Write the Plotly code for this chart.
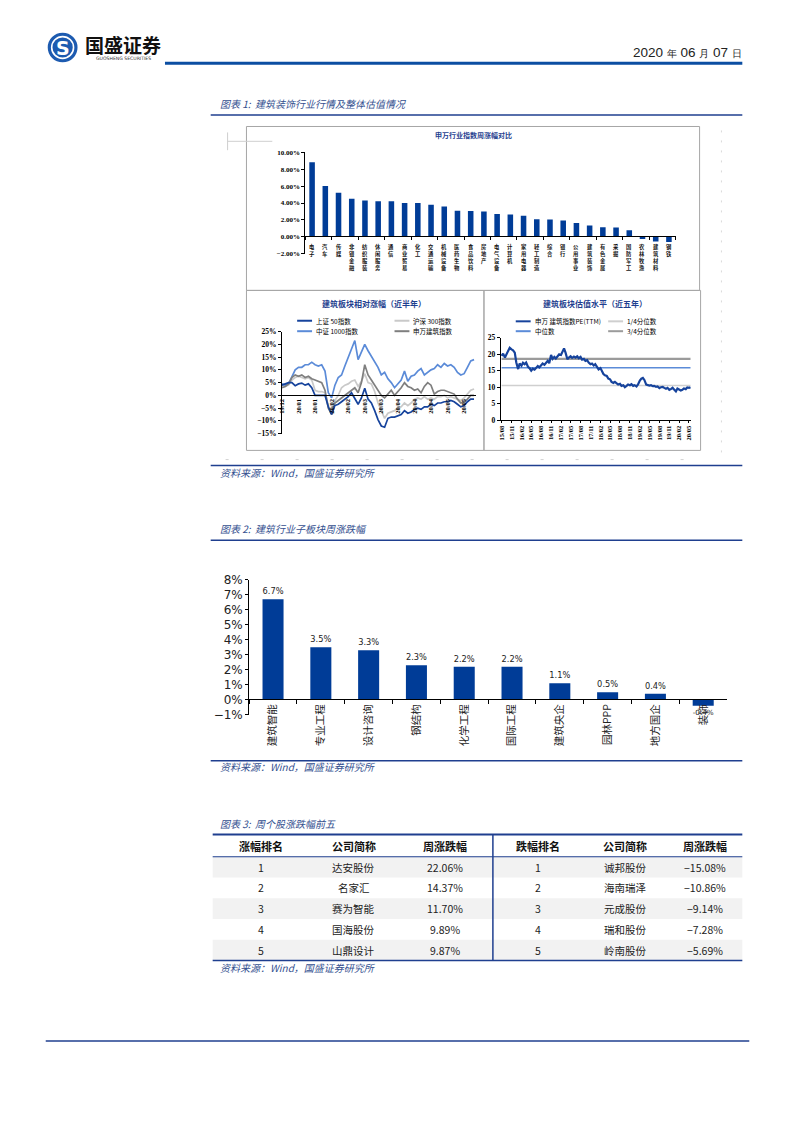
import plotly.graph_objects as go
import pandas as pd

W, H = 793, 1122
def X(px): return px / W
def Y(py): return 1 - py / H

CJK = "Noto Sans CJK SC"
SERIF = "Liberation Serif"
NAVY = "#1F3F8F"
CAP = "#34508F"
BAR = "#003C97"

# ---------------- data ----------------
ind_names = ["电子","汽车","传媒","非银金融","纺织服装","休闲服务","通信","商业贸易","化工","交通运输",
             "机械设备","医药生物","食品饮料","房地产","电气设备","计算机","家用电器","轻工制造","综合","银行",
             "公用事业","建筑装饰","有色金属","采掘","国防军工","农林牧渔","建筑材料","钢铁"]
ind_chg = [8.8,6.0,5.2,4.5,4.3,4.2,4.2,4.0,4.0,3.8,3.6,3.1,3.05,3.0,2.7,2.65,2.5,2.1,2.05,1.95,
           1.65,1.35,1.15,1.1,0.8,-0.25,-0.55,-0.6]

rel_days = list(range(0, 117, 2))
rel_ticks = [0,10,20,30,40,50,60,70,80,90,100,110]
rel_ticktext = ["19/12","20/01","20/01","20/02","20/02","20/03","20/03","20/04","20/04","20/04","20/05","20/05"]
sz50 = [4.0,4.5,5.0,5.0,3.8,4.5,4.8,4.0,4.5,3.0,0.0,0.0,0.0,0.0,-4.5,-7.5,-4.0,-3.5,-2.5,-1.5,
        -0.5,1.0,-1.0,-3.5,-1.0,2.8,-1.5,-3.0,-6.0,-9.5,-12.0,-12.5,-9.0,-8.5,-8.5,-8.0,-7.5,-6.0,-7.0,-6.5,
        -5.5,-5.0,-5.5,-4.5,-4.5,-3.5,-4.0,-3.0,-3.0,-2.5,-2.5,-2.0,-2.5,-3.5,-4.5,-4.0,-2.5,-1.5,-1.5]
hs300 = [3.5,3.5,4.0,6.0,7.0,7.5,7.0,6.5,7.0,6.0,2.0,1.5,1.5,1.0,-4.0,-7.0,-2.0,0.0,3.0,4.0,
         4.5,5.5,6.0,3.5,5.5,8.5,5.0,4.5,1.5,-3.0,-6.0,-9.0,-7.0,-6.5,-6.0,-5.0,-4.5,-3.0,-4.0,-3.0,
         -1.5,-1.0,-1.5,-0.5,-1.5,-1.0,-1.5,-0.5,-0.5,0.0,-1.0,-0.5,-1.0,-1.5,-2.0,-1.0,0.5,2.0,2.5]
zz1000 = [4.5,4.0,4.5,7.5,10.0,11.0,11.0,12.0,12.0,13.0,12.0,11.5,12.0,9.5,1.0,-1.0,4.0,7.0,8.0,11.5,
          15.0,18.0,21.5,14.0,17.0,20.0,17.5,15.5,13.0,11.0,8.0,9.0,6.5,5.0,3.0,4.5,6.0,9.5,5.5,7.5,
          8.0,9.5,10.5,8.0,9.0,10.0,10.5,12.0,11.0,12.5,11.5,12.0,11.0,9.0,8.0,8.5,11.0,13.5,14.0]
swjz = [3.0,3.5,4.5,7.0,8.0,7.5,8.0,7.0,7.5,6.5,6.0,5.5,5.0,2.0,-5.0,-7.5,-3.0,-2.0,-1.0,0.0,
        1.0,2.0,3.0,1.0,5.0,12.0,8.0,6.0,4.0,2.0,0.0,-1.0,0.5,2.0,0.0,1.5,3.0,5.0,3.5,3.0,
        2.0,2.5,1.0,3.5,5.0,4.0,0.5,1.5,2.0,2.0,1.5,1.0,0.5,-1.5,-3.0,-2.5,-1.5,0.0,0.0]

pe_dates = pd.date_range("2015-08-01", periods=116, freq="SMS")
pe_ttm = [19.5,20.2,19.0,20.0,21.0,22.0,21.5,21.2,20.5,17.5,
          15.5,17.2,16.5,17.4,17.0,17.5,16.2,15.8,15.0,15.6,
          15.3,16.0,16.4,16.0,16.8,17.2,16.8,17.4,18.0,17.3,
          19.8,18.6,19.2,18.7,19.5,20.0,19.8,20.6,21.8,20.5,
          18.5,19.0,19.4,18.9,19.3,19.0,19.4,18.8,19.2,18.4,
          18.6,18.0,18.2,17.5,17.0,17.2,16.6,17.0,16.3,15.4,
          15.8,14.6,14.0,13.6,13.4,12.6,12.4,11.6,11.3,11.6,
          11.2,10.8,11.0,10.4,10.6,10.0,10.4,10.8,10.6,10.9,
          10.4,10.6,10.2,10.8,12.0,12.6,12.8,12.2,10.8,10.6,
          10.5,10.6,10.3,10.4,10.1,10.2,9.7,10.0,10.1,9.8,
          9.5,9.8,9.2,9.4,9.8,9.3,8.7,9.6,9.4,9.0,
          9.2,9.6,9.4,9.9,9.8,10.0]
pe_q1, pe_med, pe_q3 = 10.5, 15.9, 18.6
pe_ticks = pd.date_range("2015-08-01", "2020-05-01", freq="3MS")

sub_names = ["建筑智能","专业工程","设计咨询","钢结构","化学工程","国际工程","建筑央企","园林PPP","地方国企","装饰"]
sub_chg = [6.7,3.5,3.3,2.3,2.2,2.2,1.1,0.5,0.4,-0.4]

tbl_header = ["涨幅排名","公司简称","周涨跌幅","跌幅排名","公司简称","周涨跌幅"]
up_rank = ["1","2","3","4","5"]
up_name = ["达安股份","名家汇","赛为智能","国海股份","山鼎设计"]
up_chg = ["22.06%","14.37%","11.70%","9.89%","9.87%"]
dn_rank = ["1","2","3","4","5"]
dn_name = ["诚邦股份","海南瑞泽","元成股份","瑞和股份","岭南股份"]
dn_chg = ["\u221215.08%","\u221210.86%","\u22129.14%","\u22127.28%","\u22125.69%"]

# ---------------- figure ----------------
fig = go.Figure()

fig.add_trace(go.Bar(x=ind_names, y=ind_chg, marker_color=BAR, marker_line_width=0,
                     width=0.42, xaxis="x", yaxis="y"))

for vals, color in [(hs300, "#C9C9C9"), (zz1000, "#5B8BD8"), (swjz, "#7F7F7F"), (sz50, "#16439C")]:
    fig.add_trace(go.Scatter(x=rel_days, y=vals, mode="lines", line=dict(color=color, width=1.7),
                             xaxis="x2", yaxis="y2"))

for q, color, w in [(pe_q3, "#9B9B9B", 2.2), (pe_med, "#5B8BD8", 1.6), (pe_q1, "#CFCFCF", 1.6)]:
    fig.add_trace(go.Scatter(x=pe_dates, y=[q] * len(pe_dates), mode="lines",
                             line=dict(color=color, width=w), xaxis="x3", yaxis="y3"))
fig.add_trace(go.Scatter(x=pe_dates, y=pe_ttm, mode="lines", line=dict(color="#16439C", width=2.2),
                         xaxis="x3", yaxis="y3"))

fig.add_trace(go.Bar(x=sub_names, y=sub_chg, marker_color=BAR, marker_line_width=0, width=0.44,
                     text=[f"{v:.1f}%" for v in sub_chg], textposition="outside", cliponaxis=False,
                     textfont=dict(family="DejaVu Sans", size=12, color="#222"),
                     xaxis="x4", yaxis="y4"))

axis_common = dict(showgrid=False, zeroline=False, showline=True, linecolor="black", linewidth=1)
tick_serif = dict(family=SERIF, size=7, color="black", weight="bold")

fig.update_layout(
    width=W, height=H, margin=dict(l=0, r=0, t=0, b=0),
    paper_bgcolor="white", plot_bgcolor="rgba(0,0,0,0)", showlegend=False,
    font=dict(family=CJK),
    xaxis=dict(axis_common, domain=[X(303.4), X(675.8)], anchor="free", position=Y(232.3),
               type="category", range=[-0.5, 27.5], ticks="outside", tickson="boundaries",
               ticklen=3, tickcolor="black", showticklabels=False),
    yaxis=dict(axis_common, domain=[Y(250), Y(147)], anchor="x", range=[-2, 10], dtick=2,
               tickformat=".2f", ticksuffix="%", ticks="outside", ticklen=3, tickcolor="black",
               tickfont=tick_serif),
    xaxis2=dict(axis_common, domain=[X(279.7), X(474.7)], anchor="free", position=Y(393.3),
                range=[0, 117], tickvals=rel_ticks, ticktext=rel_ticktext, tickangle=-90,
                ticks="", tickfont=dict(family=SERIF, size=6.5, color="black", weight="bold")),
    yaxis2=dict(axis_common, domain=[Y(432), Y(328.7)], anchor="x2", range=[-15, 25], dtick=5,
                ticksuffix="%", ticks="outside", ticklen=3, tickcolor="black",
                tickfont=dict(family=SERIF, size=7.5, color="black", weight="bold")),
    xaxis3=dict(axis_common, domain=[X(500), X(691.4)], anchor="y3", type="date",
                range=["2015-07-25", "2020-05-20"], tickvals=list(pe_ticks), tickformat="%y/%m",
                tickangle=-90, ticks="outside", ticklen=2, tickcolor="black",
                tickfont=dict(family=SERIF, size=6.5, color="black", weight="bold")),
    yaxis3=dict(axis_common, domain=[Y(418.3), Y(335)], anchor="x3", range=[0, 25], dtick=5,
                ticks="outside", ticklen=3, tickcolor="black",
                tickfont=dict(family=SERIF, size=7.5, color="black", weight="bold")),
    xaxis4=dict(axis_common, domain=[X(246.7), X(727.7)], anchor="free", position=Y(700.7),
                type="category", range=[-0.5, 9.5], ticks="outside", tickson="boundaries",
                ticklen=4, tickcolor="black", tickangle=-90,
                tickfont=dict(family=CJK, size=10.5, color="#222")),
    yaxis4=dict(axis_common, domain=[Y(716.7), Y(580)], anchor="x4", range=[-1, 8], dtick=1,
                ticksuffix="%", ticks="outside", ticklen=3, tickcolor="black",
                tickfont=dict(family="DejaVu Sans", size=12, color="#222")),
)

shapes = []
def line(x0, y0, x1, y1, color, width, dash=None):
    d = dict(type="line", xref="paper", yref="paper", x0=X(x0), y0=Y(y0), x1=X(x1), y1=Y(y1),
             line=dict(color=color, width=width))
    if dash:
        d["line"]["dash"] = dash
    shapes.append(d)

def rect(x0, y0, x1, y1, color, width, fill="rgba(0,0,0,0)", layer="above"):
    shapes.append(dict(type="rect", xref="paper", yref="paper", x0=X(x0), y0=Y(y0), x1=X(x1), y1=Y(y1),
                       line=dict(color=color, width=width), fillcolor=fill, layer=layer))

# header
line(162, 57, 743, 57, "#0B4EA2", 3)
shapes.append(dict(type="circle", xref="paper", yref="paper", x0=X(44), y0=Y(56), x1=X(74), y1=Y(26),
                   fillcolor="#1D5BB0", line=dict(width=0)))
shapes.append(dict(type="circle", xref="paper", yref="paper", x0=X(48), y0=Y(52), x1=X(70), y1=Y(30),
                   fillcolor="rgba(0,0,0,0)", line=dict(color="white", width=1.6)))
# caption lines
line(208, 109.3, 743, 109.3, NAVY, 1.5)
line(208, 464.3, 743, 464.3, NAVY, 1.5)
line(208, 540, 743, 540, NAVY, 1.5)
line(208, 763.3, 743, 763.3, NAVY, 1.5)
# chart 1 frames
rect(244, 121, 700, 287, "#A6A6A6", 1)
rect(244, 287, 483, 449, "#A6A6A6", 1)
rect(483, 287, 701, 449, "#A6A6A6", 1)
line(225, 136, 270, 136, "#CFCFCF", 1)
line(225, 127, 225, 145, "#CFCFCF", 1)
line(223, 458.3, 705, 458.3, "#D2D2D2", 1, "3px,32px")
line(722, 125, 722, 452, "#DADADA", 1, "2px,8px")
# legends (chart 1b)
line(295, 317.7, 310, 317.7, "#16439C", 2)
line(393, 317.7, 408, 317.7, "#C9C9C9", 2)
line(295, 328.3, 310, 328.3, "#5B8BD8", 2)
line(393, 328.3, 408, 328.3, "#7F7F7F", 2)
# legends (chart 1c)
line(515, 318.3, 530, 318.3, "#16439C", 2)
line(608, 318.3, 623, 318.3, "#CFCFCF", 2)
line(515, 328.3, 530, 328.3, "#5B8BD8", 2)
line(608, 328.3, 623, 328.3, "#9B9B9B", 2)
# table backgrounds and lines
tbl_top, tbl_head, row_h = 838, 860.5, 21
row_fill = ["#F2F2F2", "white", "#F2F2F2", "white", "#F2F2F2"]
for i, c in enumerate(row_fill):
    if c != "white":
        rect(210, tbl_head + i * row_h, 743, tbl_head + (i + 1) * row_h, "rgba(0,0,0,0)", 0,
             fill=c, layer="below")
tbl_bot = tbl_head + len(up_rank) * row_h
line(210, tbl_top, 743, tbl_top, NAVY, 2)
line(210, tbl_head, 743, tbl_head, NAVY, 1)
line(210, tbl_bot, 743, tbl_bot, NAVY, 1.5)
line(492, tbl_top, 492, tbl_bot, NAVY, 1.5)
# footer
line(42, 1047, 750, 1047, NAVY, 1.5)
fig.update_layout(shapes=shapes)

anns = []
def ann(text, x, y, size, color="black", xa="left", ya="middle", family=CJK, weight=None):
    f = dict(family=family, size=size, color=color)
    if weight:
        f["weight"] = weight
    anns.append(dict(text=text, x=X(x), y=Y(y), xref="paper", yref="paper", showarrow=False,
                     xanchor=xa, yanchor=ya, font=f))

ann("S", 59, 41.5, 19, "white", "center", family="DejaVu Sans", weight="bold")
ann("国盛证券", 80, 38, 19, "#111", weight="bold")
ann("GUOSHENG SECURITIES", 120, 52.5, 4.6, "#333", "center", family="DejaVu Sans")
ann("2020 <span style='font-size:10px'>年</span> 06 <span style='font-size:10px'>月</span> 07 "
    "<span style='font-size:10px'>日</span>", 745, 46, 13.5, "#222", "right",
    family="Liberation Sans Narrow, Liberation Sans")

ann("<i>图表 1:  建筑装饰行业行情及整体估值情况</i>", 215, 97.5, 10, CAP)
ann("<i>资料来源：Wind，国盛证券研究所</i>", 215, 471.7, 10, CAP)
ann("<i>图表 2:  建筑行业子板块周涨跌幅</i>", 215, 527.7, 10, CAP)
ann("<i>资料来源：Wind，国盛证券研究所</i>", 215, 769.5, 10, CAP)
ann("<i>图表 3:  周个股涨跌幅前五</i>", 215, 826.5, 10, CAP)
ann("<i>资料来源：Wind，国盛证券研究所</i>", 215, tbl_bot + 7, 10, CAP)

ann("申万行业指数周涨幅对比", 472, 130, 7, NAVY, "center", weight="bold")
ann("建筑板块相对涨幅（近半年）", 372, 300, 8, NAVY, "center", weight="bold")
ann("建筑板块估值水平（近五年）", 595, 300.7, 8, NAVY, "center", weight="bold")

ann("上证 50指数", 311.5, 317.7, 6.5)
ann("沪深 300指数", 410, 317.7, 6.5)
ann("中证 1000指数", 311.5, 328.3, 6.5)
ann("申万建筑指数", 410, 328.3, 6.5)
ann("申万 建筑指数PE(TTM)", 532, 318.3, 6.5)
ann("1/4分位数", 625, 318.3, 6.5)
ann("中位数", 532, 328.3, 6.5)
ann("3/4分位数", 625, 328.3, 6.5)

# industry category labels, characters stacked vertically under each bar
for name in ind_names:
    anns.append(dict(text="<br>".join(name), x=name, xref="x", y=Y(238), yref="paper",
                     showarrow=False, xanchor="center", yanchor="top", borderpad=0,
                     font=dict(family=CJK, size=5.3, color="#111", weight="bold")))

# table text
col_x = [259, 352, 444, 537, 625, 705.5]
for cx, h in zip(col_x, tbl_header):
    ann(f"<b>{h}</b>", cx, (tbl_top + tbl_head) / 2 + 0.5, 11, "#111", "center")
for cx, col in zip(col_x, [up_rank, up_name, up_chg, dn_rank, dn_name, dn_chg]):
    for i, v in enumerate(col):
        ann(v, cx, tbl_head + (i + 0.5) * row_h, 10.5, "#222", "center")

fig.update_layout(annotations=anns)

fig.write_html("out.html", config={"displayModeBar": False},
               post_script="document.body.style.margin='0px';")
